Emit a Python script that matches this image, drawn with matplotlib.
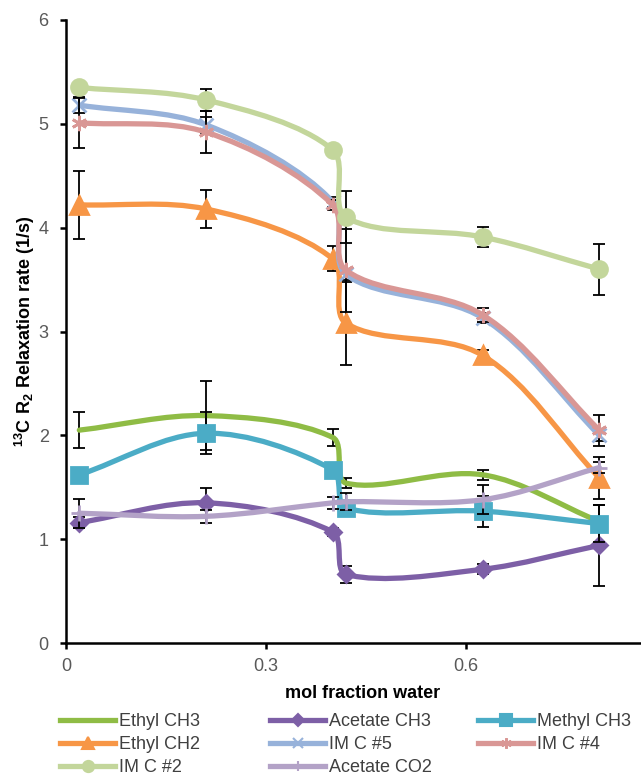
import numpy as np
import matplotlib.pyplot as plt
from matplotlib.path import Path
from matplotlib.patches import PathPatch
from matplotlib.lines import Line2D

plt.rcParams['font.family'] = ['Liberation Sans', 'DejaVu Sans']
plt.rcParams['mathtext.fontset'] = 'custom'
plt.rcParams['mathtext.rm'] = 'Liberation Sans'
plt.rcParams['mathtext.bf'] = 'Liberation Sans:bold'

# data
x_water = [0.02, 0.21, 0.40, 0.42, 0.625, 0.80]

ethyl_ch3 = [2.05, 2.19, 1.98, 1.54, 1.62, 1.17]
ethyl_ch3_err = [0.17, 0.33, 0.08, 0.05, 0.05, 0.03]
acetate_ch3 = [1.16, 1.35, 1.07, 0.66, 0.71, 0.94]
acetate_ch3_err = [0.05, 0.14, 0.04, 0.08, 0.05, 0.39]
methyl_ch3 = [1.62, 2.02, 1.67, 1.30, 1.27, 1.15]
methyl_ch3_err = [0.05, 0.20, 0.05, 0.05, 0.15, 0.18]
ethyl_ch2 = [4.22, 4.18, 3.70, 3.08, 2.77, 1.59]
ethyl_ch2_err = [0.33, 0.18, 0.12, 0.40, 0.05, 0.20]
imc5 = [5.18, 4.99, 4.25, 3.55, 3.13, 2.00]
imc5_err = [0.08, 0.08, 0.05, 0.05, 0.05, 0.05]
imc4 = [5.01, 4.92, 4.22, 3.59, 3.16, 2.05]
imc4_err = [0.24, 0.20, 0.05, 0.40, 0.07, 0.15]
imc2 = [5.35, 5.23, 4.75, 4.10, 3.91, 3.60]
imc2_err = [0.05, 0.11, 0.05, 0.25, 0.10, 0.245]
acetate_co2 = [1.25, 1.22, 1.35, 1.36, 1.38, 1.69]
acetate_co2_err = [0.14, 0.06, 0.06, 0.08, 0.14, 0.05]

names = ['Ethyl CH3', 'Acetate CH3', 'Methyl CH3', 'Ethyl CH2',
         'IM C #5', 'IM C #4', 'IM C #2', 'Acetate CO2']
values = [ethyl_ch3, acetate_ch3, methyl_ch3, ethyl_ch2, imc5, imc4, imc2, acetate_co2]
errors = [ethyl_ch3_err, acetate_ch3_err, methyl_ch3_err, ethyl_ch2_err,
          imc5_err, imc4_err, imc2_err, acetate_co2_err]
colors = ['#8fbc45', '#7d5fa6', '#4bacc6', '#f79646',
          '#97b2da', '#d99795', '#c3d69b', '#b3a2c7']
markers = [None, 'D', 's', '^', 'x', (6, 2, 0), 'o', '+']
msizes = [0, 8.5, 11.5, 12.5, 10, 11, 11.5, 11]


def smooth_path(ax, xs, ys, f=1/3):
    # excel-like smoothed line: bezier segments built in pixel space
    pts = ax.transData.transform(np.column_stack([xs, ys]))
    n = len(pts)

    def ctrl(i):
        p = pts[i]
        prev = pts[max(i - 1, 0)]
        nxt = pts[min(i + 1, n - 1)]
        tan = nxt - prev
        d1 = np.hypot(*(p - prev))
        d2 = np.hypot(*(nxt - p))
        return p - tan * f * d1 / (d1 + d2), p + tan * f * d2 / (d1 + d2)

    verts = [pts[0]]
    codes = [Path.MOVETO]
    for i in range(n - 1):
        c1 = ctrl(i)[1]
        c2 = ctrl(i + 1)[0]
        verts += [c1, c2, pts[i + 1]]
        codes += [Path.CURVE4] * 3
    return Path(ax.transData.inverted().transform(np.array(verts)), codes)


fig = plt.figure(figsize=(6.41, 7.77), dpi=100)
ax = fig.add_axes([66 / 641, 1 - 643 / 777, 1 - 66 / 641, 623 / 777])
ax.set_xlim(0, 0.8625)
ax.set_ylim(0, 6)

handles = []
for i, (name, y, err, c, m, ms) in enumerate(zip(names, values, errors, colors, markers, msizes)):
    z = 3 + i
    ax.errorbar(x_water, y, yerr=err, fmt='none', ecolor='black',
                elinewidth=1.3, capsize=4, capthick=1.3, zorder=z)
    ax.add_patch(PathPatch(smooth_path(ax, x_water, y), fill=False, edgecolor=c,
                           lw=3.8, capstyle='round', joinstyle='round', zorder=z + 0.1))
    if m is not None:
        ax.plot(x_water, y, linestyle='none', marker=m, ms=ms, color=c, mec=c,
                mew=2, zorder=z + 0.2)
    handles.append(Line2D([], [], color=c, lw=3.8, marker=m, ms=ms * 0.7, mec=c, mew=1.5))

ax.set_xticks([0, 0.3, 0.6])
ax.set_xticklabels(['0', '0.3', '0.6'])
ax.set_yticks(range(7))
for s in ['top', 'right']:
    ax.spines[s].set_visible(False)
for s in ['left', 'bottom']:
    ax.spines[s].set_linewidth(1.8)
ax.tick_params(direction='out', length=4, width=1.8, labelsize=13, labelcolor='#595959')
ax.tick_params(axis='y', pad=8.5)
ax.tick_params(axis='x', pad=7)

fig.text(25 / 641, 1 - 331 / 777, r'$\mathbf{^{13}C\ R_{2}}$ Relaxation rate (1/s)',
         rotation=90, ha='center', va='center', fontsize=13, fontweight='bold')
fig.text(363 / 641, 1 - 693 / 777, 'mol fraction water', ha='center', va='center',
         fontsize=13, fontweight='bold')

# legend laid out row-wise in three columns like excel
col_x = [60, 270, 478]
for col in range(3):
    idx = list(range(col, len(names), 3))
    leg = fig.legend([handles[k] for k in idx], [names[k] for k in idx],
                     loc='upper left', bbox_to_anchor=(col_x[col] / 641, 1 - 713 / 777),
                     frameon=False, fontsize=13, handlelength=3.05, handletextpad=0.2,
                     labelspacing=0.34, borderpad=0, borderaxespad=0, numpoints=1)
    for t in leg.get_texts():
        t.set_color('#404040')

fig.savefig('out.png', dpi=100)
